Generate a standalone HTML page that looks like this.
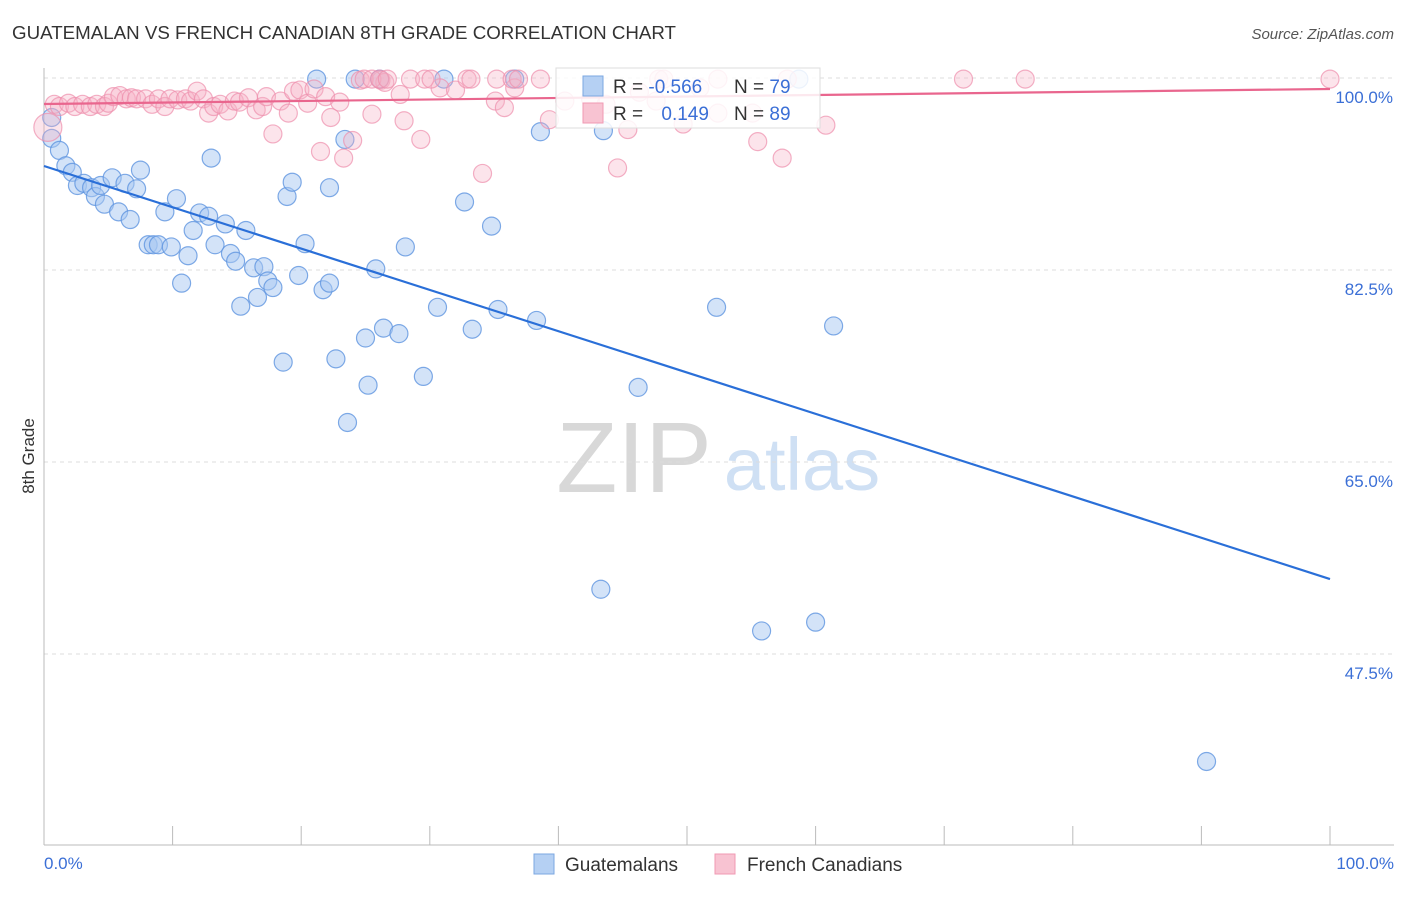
<!DOCTYPE html>
<html><head><meta charset="utf-8"><style>
body{margin:0;background:#fff;font-family:"Liberation Sans",sans-serif;}
svg text{font-family:"Liberation Sans",sans-serif;}
</style></head><body>
<svg id="chart" width="1406" height="892" viewBox="0 0 1406 892" xmlns="http://www.w3.org/2000/svg">
<text x="12" y="39" font-size="18.6" fill="#333" textLength="664" lengthAdjust="spacingAndGlyphs">GUATEMALAN VS FRENCH CANADIAN 8TH GRADE CORRELATION CHART</text>
<text x="1394" y="39" font-size="15" fill="#555" text-anchor="end" font-style="italic">Source: ZipAtlas.com</text>
<g>
<text x="634" y="492" font-size="100" fill="#d8d8d8" text-anchor="middle" font-family="Liberation Serif, serif">ZIP</text>
<text x="802" y="490" font-size="74" fill="#cfe0f4" text-anchor="middle">atlas</text>
</g>
<g id="grid"></g>
<g id="axes"></g>
<g id="blue"></g>
<g id="pink"></g>
<g id="lines"></g>
<text transform="translate(34,456) rotate(-90)" font-size="17" fill="#333" text-anchor="middle">8th Grade</text>
<g>
<rect x="556" y="68" width="264" height="60" fill="#fff" fill-opacity="0.85" stroke="#ddd"/>
<rect x="583" y="76" width="20" height="20" fill="#b5d0f3" stroke="#7ba7e2"/>
<rect x="583" y="103" width="20" height="20" fill="#f8c3d2" stroke="#f09ab3"/>
<text x="613" y="93" font-size="19" fill="#333">R = <tspan fill="#3b6fd6">-0.566</tspan></text>
<text x="734" y="93" font-size="19" fill="#333">N = <tspan fill="#3b6fd6">79</tspan></text>
<text x="613" y="120" font-size="19" fill="#333">R = <tspan fill="#3b6fd6" dx="13">0.149</tspan></text>
<text x="734" y="120" font-size="19" fill="#333">N = <tspan fill="#3b6fd6">89</tspan></text>
</g>
<g>
<rect x="534" y="854" width="20" height="20" fill="#b5d0f3" stroke="#7ba7e2"/>
<text x="565" y="871" font-size="19" fill="#333">Guatemalans</text>
<rect x="715" y="854" width="20" height="20" fill="#f8c3d2" stroke="#f09ab3"/>
<text x="747" y="871" font-size="19" fill="#333">French Canadians</text>
</g>
</svg>
<script>
const yTicks=[100,82.5,65,47.5];
const yTickLabels=["100.0%","82.5%","65.0%","47.5%"];
const xTickLabels=["0.0%","100.0%"];
const blueX=[0.6,0.6,1.2,1.7,2.2,2.6,3.1,3.7,4.0,4.4,4.7,5.3,5.8,6.3,6.7,7.2,7.5,8.1,8.5,8.9,9.4,9.9,10.3,10.7,11.2,11.6,12.1,12.8,13.0,13.3,14.1,14.5,14.9,15.3,15.7,16.3,16.6,17.1,17.4,17.8,18.6,18.9,19.3,19.8,20.3,21.2,21.7,22.2,22.2,22.7,23.4,23.6,24.2,25.0,25.2,25.8,26.1,26.4,27.6,28.1,29.5,30.6,31.1,32.7,33.3,34.8,35.3,36.6,38.3,38.6,43.3,43.5,46.2,52.3,55.8,58.7,60.0,61.4,90.4];
const blueY=[96.4,94.5,93.4,92.0,91.4,90.2,90.4,90.0,89.2,90.2,88.5,90.9,87.8,90.4,87.1,89.9,91.6,84.8,84.8,84.8,87.8,84.6,89.0,81.3,83.8,86.1,87.7,87.4,92.7,84.8,86.7,84.0,83.3,79.2,86.1,82.7,80.0,82.8,81.5,80.9,74.1,89.2,90.5,82.0,84.9,99.9,80.7,81.3,90.0,74.4,94.4,68.6,99.9,76.3,72.0,82.6,99.9,77.2,76.7,84.6,72.8,79.1,99.9,88.7,77.1,86.5,78.9,99.9,77.9,95.1,53.4,95.2,71.8,79.1,49.6,99.9,50.4,77.4,37.7];
const pinkX=[0.3,0.8,1.2,1.9,2.4,3.0,3.6,4.1,4.7,5.0,5.4,5.9,6.4,6.8,7.2,7.9,8.4,8.9,9.4,9.8,10.4,11.0,11.4,11.9,12.4,12.8,13.2,13.7,14.3,14.8,15.2,15.9,16.5,17.0,17.3,17.8,18.4,19.0,19.4,19.9,20.5,21.0,21.9,22.3,23.0,21.5,23.3,24.0,24.6,25.5,26.2,26.5,27.7,28.0,29.3,30.8,32.0,34.1,35.1,35.8,36.6,39.3,40.5,42.5,43.7,44.6,45.4,46.3,47.6,49.7,51.0,52.4,55.1,55.5,57.4,60.8,24.9,25.5,26.1,26.7,28.5,29.6,30.1,32.9,33.2,35.2,36.4,36.9,38.6,47.8,48.2,52.4,57.8,71.5,76.3,100];
const pinkY=[95.5,97.6,97.4,97.7,97.4,97.6,97.4,97.6,97.4,97.7,98.3,98.4,98.1,98.2,98.1,98.1,97.6,98.1,97.4,98.1,98.0,98.1,97.9,98.8,98.1,96.8,97.4,97.6,97.0,97.9,97.8,98.2,97.1,97.4,98.3,94.9,97.9,96.8,98.8,98.9,97.7,99.0,98.3,96.4,97.8,93.3,92.7,94.3,99.8,96.7,99.8,99.6,98.5,96.1,94.4,99.1,98.9,91.3,97.9,97.3,99.1,96.2,97.9,98.1,97.6,91.8,95.3,98.7,97.9,95.8,99.1,96.8,96.8,94.2,92.7,95.7,99.9,99.9,99.9,99.9,99.9,99.9,99.9,99.9,99.9,99.9,99.9,99.9,99.9,99.9,99.9,99.9,99.9,99.9,99.9,99.9];
const blueTrend=[91.98,54.33];
const pinkTrend=[97.63,99.0];
const NS="http://www.w3.org/2000/svg";
const sx=v=>44+v*12.86;
const sy=v=>78+(100-v)*10.971;
function mk(tag,attrs,parent){const e=document.createElementNS(NS,tag);for(const k in attrs)e.setAttribute(k,attrs[k]);parent.appendChild(e);return e;}
const grid=document.getElementById('grid'),axes=document.getElementById('axes');
yTicks.forEach((t,i)=>{
 const l=mk('line',{x1:44,x2:1394,y1:sy(t),y2:sy(t),stroke:'#ddd','stroke-dasharray':'4,4'},grid);
 
 
 const tx=mk('text',{x:1393,y:sy(t)+25,'font-size':17,fill:'#3b6fd6','text-anchor':'end'},axes);
 tx.textContent=yTickLabels[i];
 
 
});
mk('line',{x1:44,x2:44,y1:68,y2:845,stroke:'#bbb'},axes);
mk('line',{x1:44,x2:1394,y1:845,y2:845,stroke:'#bbb'},axes);
for(let i=1;i<=10;i++){const t=mk('line',{x1:sx(i*10),x2:sx(i*10),y1:826,y2:845,stroke:'#bbb'},axes);
 
 }
const xl0=mk('text',{x:44,y:869,'font-size':17,fill:'#3b6fd6'},axes);xl0.textContent=xTickLabels[0];


const xl1=mk('text',{x:1394,y:869,'font-size':17,fill:'#3b6fd6','text-anchor':'end'},axes);xl1.textContent=xTickLabels[1];


const pg=document.getElementById('pink');
pinkX.forEach((x,i)=>{const c=mk('circle',{cx:sx(x),cy:sy(pinkY[i]),r:i==0?14:9,fill:'#f6b3c7','fill-opacity':0.35,stroke:'#ee8fac','stroke-opacity':0.7,'stroke-width':1.2},pg);
 
 });
const bg=document.getElementById('blue');
blueX.forEach((x,i)=>{const c=mk('circle',{cx:sx(x),cy:sy(blueY[i]),r:9,fill:'#a8c8f2','fill-opacity':0.5,stroke:'#5f95e0','stroke-opacity':0.8,'stroke-width':1.2},bg);
 
 });
const lg=document.getElementById('lines');
const bl=mk('line',{x1:sx(0),y1:sy(blueTrend[0]),x2:sx(100),y2:sy(blueTrend[1]),stroke:'#2a6fd8','stroke-width':2.2},lg);


const pl=mk('line',{x1:sx(0),y1:sy(pinkTrend[0]),x2:sx(100),y2:sy(pinkTrend[1]),stroke:'#e9668e','stroke-width':2.2},lg);


</script>
</body></html>
